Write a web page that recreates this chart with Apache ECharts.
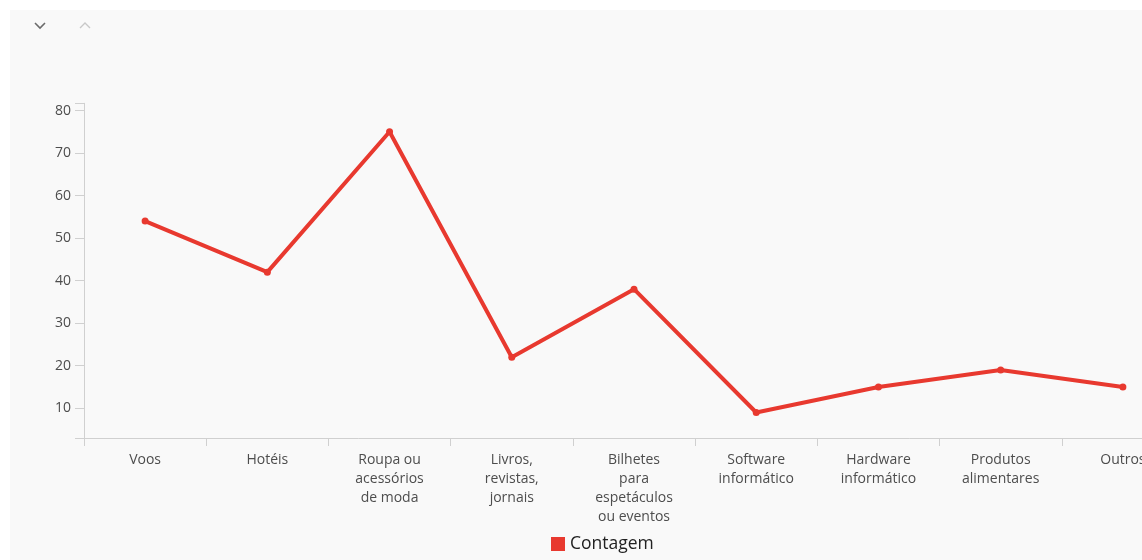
<!DOCTYPE html>
<html>
<head>
<meta charset="utf-8">
<script src="https://cdn.jsdelivr.net/npm/echarts@6/dist/echarts.min.js"></script>
<style>
  html, body { margin: 0; padding: 0; background: #ffffff; overflow: hidden; }
  /* the plot runs past the right edge of the window and is cut off there */
  #chart { width: 1200px; height: 560px; }
</style>
</head>
<body>
<div id="chart"></div>
<script>
// Categorias de compra online
const categories = [
  'Voos',
  'Hotéis',
  'Roupa ou\nacessórios\nde moda',
  'Livros,\nrevistas,\njornais',
  'Bilhetes\npara\nespetáculos\nou eventos',
  'Software\ninformático',
  'Hardware\ninformático',
  'Produtos\nalimentares',
  'Outros'
];
// Contagem por categoria
const contagem = [54, 42, 75, 22, 38, 9, 15, 19, 15];
// Marcas do eixo vertical
const yTicks = [10, 20, 30, 40, 50, 60, 70, 80];
const yMin = 3;
const yMax = 81.7;

const chart = echarts.init(document.getElementById('chart'), null, { renderer: 'canvas' });

const axisGray = '#d0d0d0';
const labelGray = '#4d4d4d';
const red = '#e8392f';
const font = '"Open Sans", sans-serif';

chart.setOption({
  backgroundColor: '#ffffff',
  animation: false,
  graphic: [
    {
      type: 'rect', z: -10, silent: true,
      shape: { x: 10, y: 10, width: 1190, height: 550 },
      style: { fill: '#f9f9f9' }
    },
    {
      type: 'polyline', silent: true,
      shape: { points: [[35, 23], [40, 28], [45, 23]] },
      style: { stroke: '#6b6b6b', lineWidth: 1.6, fill: null }
    },
    {
      type: 'polyline', silent: true,
      shape: { points: [[80, 28], [85, 23], [90, 28]] },
      style: { stroke: '#c8c8c8', lineWidth: 1.4, fill: null }
    }
  ],
  grid: {
    left: 84,
    right: 16,
    top: 103.3,
    bottom: 122,
    containLabel: false
  },
  legend: {
    show: true,
    left: 546,
    top: 530,
    itemWidth: 14,
    itemHeight: 14,
    itemGap: 7,
    icon: 'rect',
    textStyle: { fontFamily: font, fontSize: 17.5, color: '#222222' },
    data: [{ name: 'Contagem', icon: 'rect' }]
  },
  xAxis: {
    type: 'category',
    data: categories,
    boundaryGap: true,
    axisLine: { show: true, lineStyle: { color: axisGray, width: 1 } },
    axisTick: { show: true, length: 8, lineStyle: { color: axisGray } },
    axisLabel: {
      interval: 0,
      margin: 13,
      color: labelGray,
      fontFamily: font,
      fontSize: 14,
      lineHeight: 19,
      align: 'center'
    },
    splitLine: { show: false }
  },
  yAxis: {
    type: 'value',
    min: yMin,
    max: yMax,
    axisLine: { show: true, lineStyle: { color: axisGray, width: 1 } },
    axisTick: {
      show: true,
      length: 9,
      lineStyle: { color: axisGray },
      customValues: [yMin].concat(yTicks, [yMax])
    },
    axisLabel: {
      margin: 13,
      color: labelGray,
      fontFamily: font,
      fontSize: 14,
      customValues: yTicks
    },
    splitLine: { show: false }
  },
  series: [
    {
      name: 'Contagem',
      type: 'line',
      data: contagem,
      color: red,
      lineStyle: { color: red, width: 4 },
      itemStyle: { color: red },
      symbol: 'circle',
      symbolSize: 7,
      showSymbol: true
    }
  ]
});
</script>
</body>
</html>
